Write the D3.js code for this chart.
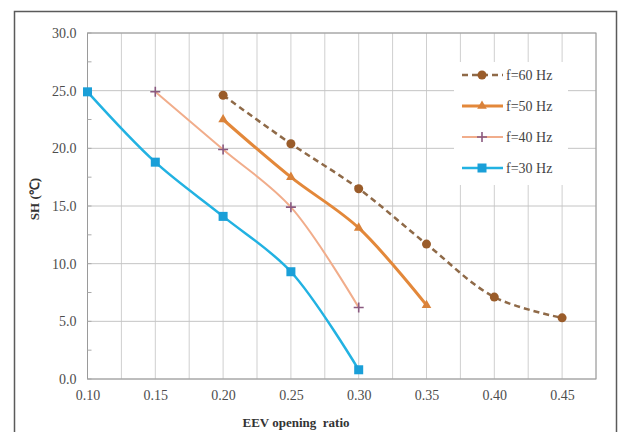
<!DOCTYPE html>
<html>
<head>
<meta charset="utf-8">
<script src="https://cdn.jsdelivr.net/npm/d3@7/dist/d3.min.js"></script>
<style>
  html, body { margin: 0; padding: 0; background: #fff; }
  svg { display: block; }
</style>
</head>
<body>
<div id="chart"></div>
<script>
// EEV opening ratio (x) and superheat SH (y) per compressor frequency
var ratio60 = [0.20, 0.25, 0.30, 0.35, 0.40, 0.45];
var sh60 = [24.6, 20.4, 16.5, 11.7, 7.1, 5.3];
var ratio50 = [0.20, 0.25, 0.30, 0.35];
var sh50 = [22.5, 17.5, 13.1, 6.4];
var ratio40 = [0.15, 0.20, 0.25, 0.30];
var sh40 = [24.9, 19.9, 14.9, 6.2];
var ratio30 = [0.10, 0.15, 0.20, 0.25, 0.30];
var sh30 = [24.9, 18.8, 14.1, 9.3, 0.8];

var xTicks = [0.10, 0.15, 0.20, 0.25, 0.30, 0.35, 0.40, 0.45];
var yTicks = [0, 5, 10, 15, 20, 25, 30];
var seriesNames = ["f=60 Hz", "f=50 Hz", "f=40 Hz", "f=30 Hz"];

var zip = function (xs, ys) {
    return xs.map(function (x, i) { return { x: x, y: ys[i] }; });
};

var series = [
    { name: seriesNames[0], pts: zip(ratio60, sh60), color: "#8f6a48", mark: "#9a5c2a", width: 2.5, dash: "6,4", shape: "circle" },
    { name: seriesNames[1], pts: zip(ratio50, sh50), color: "#e3883a", mark: "#d9823a", width: 3, dash: null, shape: "triangle" },
    { name: seriesNames[2], pts: zip(ratio40, sh40), color: "#f1ad8b", mark: "#8a5a80", width: 2, dash: null, shape: "plus" },
    { name: seriesNames[3], pts: zip(ratio30, sh30), color: "#22b2e2", mark: "#1a9fd8", width: 2.5, dash: null, shape: "square" }
];

var W = 619, H = 432;
var margin = { left: 87.5, right: 23, top: 33, bottom: 53 };
var serif = "'Liberation Serif', 'Times New Roman', serif";

var svg = d3.select("#chart").append("svg")
    .attr("width", W).attr("height", H)
    .style("font-family", serif);

// outer frame
svg.append("rect")
    .attr("x", 14.5).attr("y", 11.5)
    .attr("width", 602).attr("height", 440)
    .attr("fill", "none").attr("stroke", "#5a5a5a").attr("stroke-width", 1.5);

var x = d3.scaleLinear().domain([0.10, 0.475]).range([margin.left, W - margin.right]);
var y = d3.scaleLinear().domain([0, 30]).range([H - margin.bottom, margin.top]);

// gridlines
var vGrid = d3.range(0, 16).map(function (i) { return 0.10 + i * 0.025; });
svg.append("g").selectAll("line").data(vGrid).enter().append("line")
    .attr("x1", function (d) { return x(d); }).attr("x2", function (d) { return x(d); })
    .attr("y1", y(0)).attr("y2", y(30))
    .attr("stroke", "#cfcfcf").attr("stroke-width", 1);
svg.append("g").selectAll("line").data(yTicks).enter().append("line")
    .attr("x1", x(0.10)).attr("x2", x(0.475))
    .attr("y1", function (d) { return y(d); }).attr("y2", function (d) { return y(d); })
    .attr("stroke", "#c4c4c4").attr("stroke-width", 1);

// plot border
svg.append("rect")
    .attr("x", x(0.10)).attr("y", y(30))
    .attr("width", x(0.475) - x(0.10)).attr("height", y(0) - y(30))
    .attr("fill", "none").attr("stroke", "#9a9a9a").attr("stroke-width", 1);

// axes
var yAxis = d3.axisLeft(y).tickValues(yTicks).tickFormat(d3.format(".1f")).tickSize(0).tickPadding(11);
var gy = svg.append("g").attr("transform", "translate(" + x(0.10) + ",0)").call(yAxis);
gy.select(".domain").remove();
gy.selectAll("text").attr("fill", "#4d4d4d").style("font-size", "14px").style("font-family", serif);

// minor y ticks
svg.append("g").selectAll("line").data(d3.range(0, 31, 2.5)).enter().append("line")
    .attr("x1", x(0.10)).attr("x2", x(0.10) + 4)
    .attr("y1", function (d) { return y(d); }).attr("y2", function (d) { return y(d); })
    .attr("stroke", "#aaa");

var xAxis = d3.axisBottom(x).tickValues(xTicks).tickFormat(d3.format(".2f")).tickSize(0).tickPadding(11);
var gx = svg.append("g").attr("transform", "translate(0," + y(0) + ")").call(xAxis);
gx.select(".domain").remove();
gx.selectAll("text").attr("fill", "#4d4d4d").style("font-size", "14px").style("font-family", serif);

// axis titles
svg.append("text")
    .attr("x", 296).attr("y", 427)
    .attr("text-anchor", "middle")
    .attr("xml:space", "preserve")
    .style("font-size", "13px").style("font-weight", "bold").attr("fill", "#333")
    .text("EEV opening  ratio");
svg.append("text")
    .attr("transform", "translate(39,199) rotate(-90)")
    .attr("text-anchor", "middle")
    .style("font-size", "13px").style("font-weight", "bold").attr("fill", "#333")
    .text("SH (℃)");

var line = d3.line()
    .x(function (d) { return x(d.x); })
    .y(function (d) { return y(d.y); })
    .curve(d3.curveCatmullRom.alpha(0.5));

var drawMarker = function (g, s, cx, cy) {
    switch (s.shape) {
        case "circle":
            g.append("circle").attr("cx", cx).attr("cy", cy).attr("r", 4.5).attr("fill", s.mark);
            break;
        case "triangle":
            g.append("path").attr("d", d3.symbol().type(d3.symbolTriangle).size(40)())
                .attr("transform", "translate(" + cx + "," + cy + ")").attr("fill", s.mark);
            break;
        case "plus":
            g.append("path").attr("d", "M-5,0H5M0,-5V5")
                .attr("transform", "translate(" + cx + "," + cy + ")")
                .attr("stroke", s.mark).attr("stroke-width", 1.6).attr("fill", "none");
            break;
        default:
            g.append("rect").attr("x", cx - 4.5).attr("y", cy - 4.5)
                .attr("width", 9).attr("height", 9).attr("fill", s.mark);
    }
};

// plot series (draw 30 Hz first so 60 Hz stays on top, as in the original)
series.slice().reverse().forEach(function (s) {
    var g = svg.append("g");
    g.append("path").datum(s.pts)
        .attr("d", line)
        .attr("fill", "none")
        .attr("stroke", s.color)
        .attr("stroke-width", s.width)
        .attr("stroke-dasharray", s.dash);
    s.pts.forEach(function (p) { drawMarker(g, s, x(p.x), y(p.y)); });
});

// legend
var lg = svg.append("g");
lg.append("rect").attr("x", 454).attr("y", 62).attr("width", 114).attr("height", 123).attr("fill", "#fff");
series.forEach(function (s, i) {
    var ly = 75 + i * 31;
    lg.append("line")
        .attr("x1", 462).attr("x2", 503).attr("y1", ly).attr("y2", ly)
        .attr("stroke", s.color).attr("stroke-width", s.width)
        .attr("stroke-dasharray", s.dash);
    drawMarker(lg, s, 482, ly);
    lg.append("text").attr("x", 506).attr("y", ly + 5)
        .style("font-size", "14px").attr("fill", "#444")
        .text(s.name);
});
</script>
</body>
</html>
